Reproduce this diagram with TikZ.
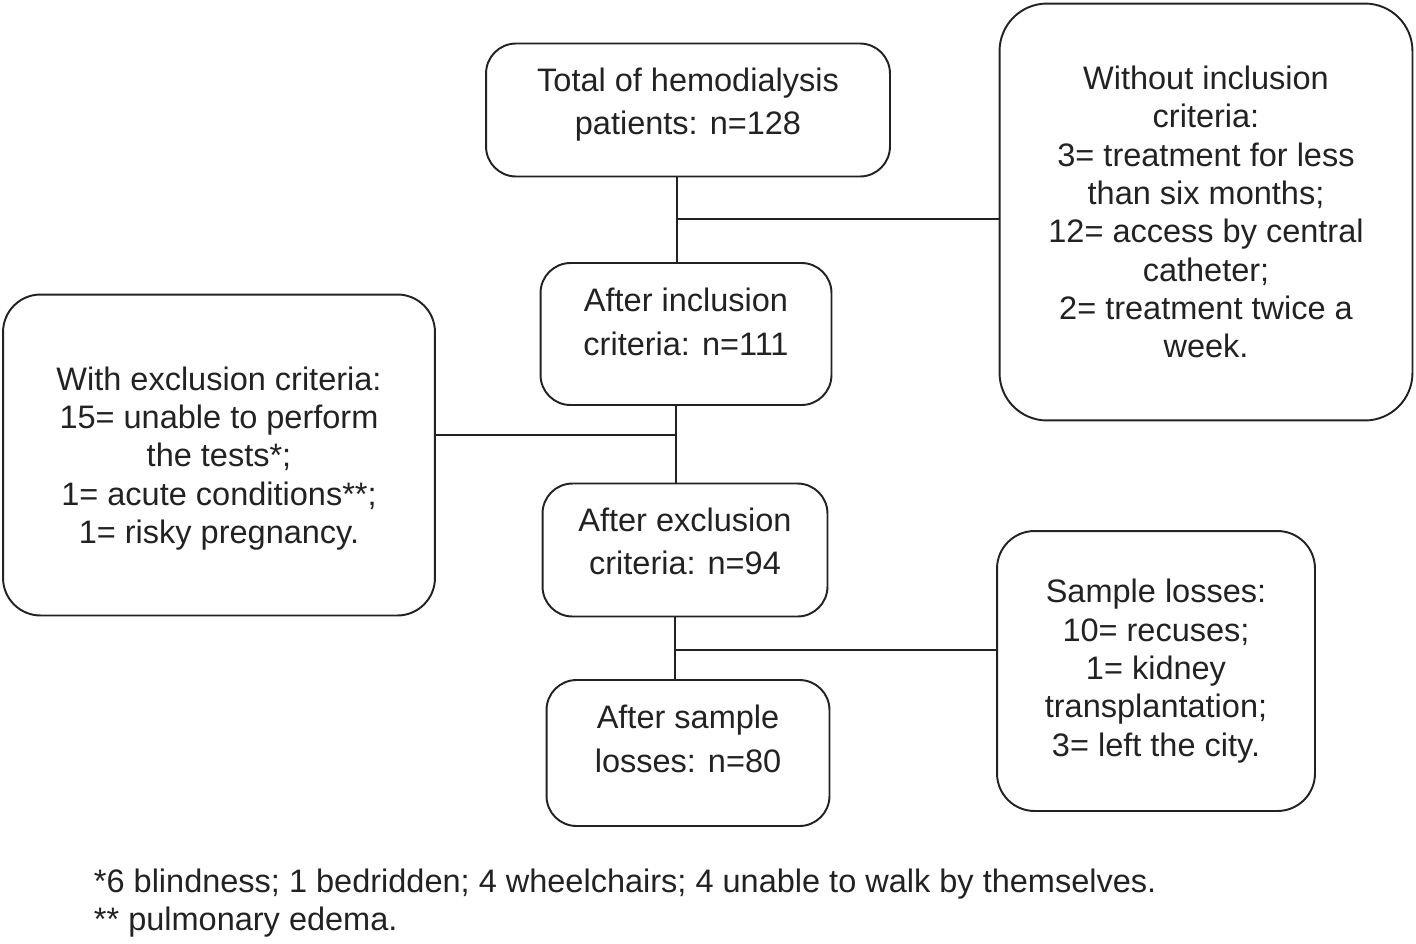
\documentclass[tikz,border=0pt]{standalone}
\usepackage{fontspec}
\setmainfont{Liberation Sans}
\usetikzlibrary{positioning,calc}

\definecolor{inkgray}{HTML}{222222}

\begin{document}
\begin{tikzpicture}[
    x=0.02cm,y=-0.02cm,
    line width=1.1pt,
    every node/.style={text=inkgray},
    stepbox/.style={draw=inkgray,rounded corners=0.6cm,align=center,
        font=\fontsize{18.5}{25}\selectfont,inner sep=0pt},
    sidebox/.style={draw=inkgray,rounded corners=0.75cm,align=center,
        font=\fontsize{18.5}{21.8}\selectfont,inner sep=0pt},
    link/.style={draw=inkgray}
]
    \useasboundingbox (0,0) rectangle (1416,943);

    % main column
    \node[stepbox,text depth=10pt,minimum width=8.08cm,minimum height=2.66cm] (total) at (688,110)
        {Total of hemodialysis\\patients: n=128};
    \node[stepbox,text depth=14.5pt,minimum width=5.82cm,minimum height=2.84cm] (incl) at (686,334)
        {After inclusion\\criteria: n=111};
    \node[stepbox,text depth=10pt,minimum width=5.7cm,minimum height=2.66cm] (excl) at (685,550)
        {After exclusion\\criteria: n=94};
    \node[stepbox,text depth=16pt,minimum width=5.66cm,minimum height=2.92cm] (final) at (688,753)
        {After sample\\losses: n=80};

    % side boxes
    \node[sidebox,rounded corners=0.95cm,minimum width=8.26cm,minimum height=8.34cm] (noincl) at (1206,212)
        {Without inclusion\\criteria:\\3= treatment for less\\than six months;\\12= access by central\\catheter;\\2= treatment twice a\\week.};
    \node[sidebox,text depth=0pt,minimum width=8.64cm,minimum height=6.42cm] (withexcl) at (219,455)
        {With exclusion criteria:\\15= unable to perform\\the tests*;\\1= acute conditions**;\\1= risky pregnancy.};
    \node[sidebox,minimum width=6.36cm,minimum height=5.6cm] (losses) at (1156,671)
        {Sample losses:\\10= recuses;\\1= kidney\\transplantation;\\3= left the city.};

    % footnotes
    \node[anchor=west,align=left,inner sep=0pt,font=\fontsize{18.5}{21.8}\selectfont] (notes) at (93,903)
        {*6 blindness; 1 bedridden; 4 wheelchairs; 4 unable to walk by themselves.\\** pulmonary edema.};

    % connectors
    \coordinate (j1) at (677,219);
    \coordinate (j2) at (676,435);
    \coordinate (j3) at (675,650);
    \draw[link] (j1 |- total.south) -- (j1 |- incl.north);
    \draw[link] (j1) -- (j1 -| noincl.west);
    \draw[link] (j2 |- incl.south) -- (j2 |- excl.north);
    \draw[link] (j2) -- (j2 -| withexcl.east);
    \draw[link] (j3 |- excl.south) -- (j3 |- final.north);
    \draw[link] (j3) -- (j3 -| losses.west);
\end{tikzpicture}
\end{document}
